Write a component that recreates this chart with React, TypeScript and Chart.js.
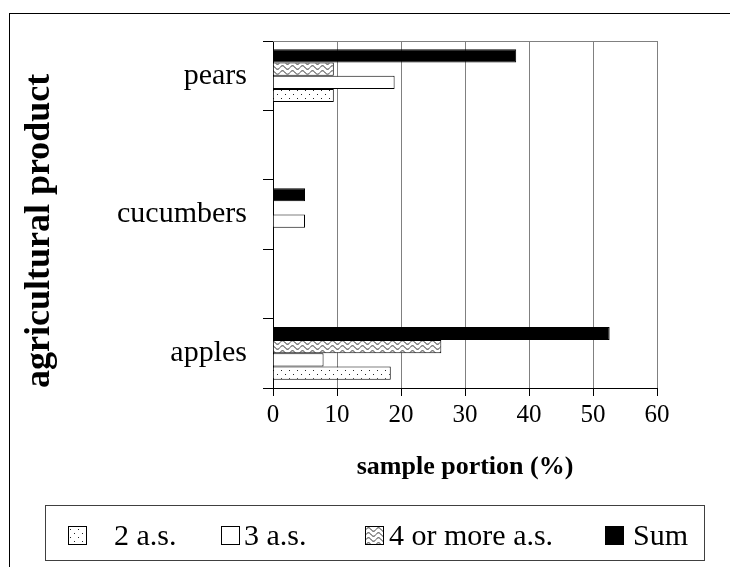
import React, { useEffect, useRef, useMemo } from 'react';
import { Chart, registerables } from 'chart.js';

Chart.register(...registerables);

// ---- data ----
const categories = ['pears', '', 'cucumbers', '', 'apples'];
const sumValues = [38.0, null, 5.0, null, 52.6];
const fourPlusValues = [9.5, null, 0, null, 26.3];
const threeValues = [19.0, null, 5.0, null, 7.9];
const twoValues = [9.5, null, 0, null, 18.4];
const xMin = 0;
const xMax = 60;
const xStep = 10;
const legendLabels = ['2 a.s.', '3 a.s.', '4 or more a.s.', 'Sum'];
const xTitle = 'sample portion (%)';
const yTitle = 'agricultural product';

const SERIF = "'Liberation Serif', 'Times New Roman', serif";

function makeDotTile(): HTMLCanvasElement {
  const c = document.createElement('canvas');
  c.width = 8;
  c.height = 8;
  const g = c.getContext('2d')!;
  g.fillStyle = '#fff';
  g.fillRect(0, 0, 8, 8);
  g.fillStyle = '#222';
  g.fillRect(1, 2, 1, 1);
  g.fillRect(5, 6, 1, 1);
  return c;
}

function makeWaveTile(): HTMLCanvasElement {
  const c = document.createElement('canvas');
  c.width = 10;
  c.height = 5;
  const g = c.getContext('2d')!;
  g.fillStyle = '#fff';
  g.fillRect(0, 0, 10, 5);
  g.strokeStyle = '#222';
  g.lineWidth = 1;
  g.beginPath();
  g.moveTo(0, 2.5);
  g.bezierCurveTo(1.5, 0.2, 3.5, 0.2, 5, 2.5);
  g.bezierCurveTo(6.5, 4.8, 8.5, 4.8, 10, 2.5);
  g.stroke();
  return c;
}

const topBorderPlugin = {
  id: 'topBorder',
  afterDraw(chart: any) {
    const { ctx, chartArea } = chart;
    ctx.save();
    ctx.strokeStyle = '#808080';
    ctx.lineWidth = 1;
    ctx.beginPath();
    const y = Math.round(chartArea.top) + 0.5;
    ctx.moveTo(chartArea.left, y);
    ctx.lineTo(chartArea.right, y);
    ctx.stroke();
    ctx.restore();
  },
};

export default function App() {
  const canvasRef = useRef<HTMLCanvasElement | null>(null);
  const tiles = useMemo(() => ({ dot: makeDotTile(), wave: makeWaveTile() }), []);

  useEffect(() => {
    const canvas = canvasRef.current!;
    const ctx = canvas.getContext('2d')!;
    const dotPattern = ctx.createPattern(tiles.dot, 'repeat')!;
    const wavePattern = ctx.createPattern(tiles.wave, 'repeat')!;

    const chart = new Chart(canvas, {
      type: 'bar',
      data: {
        labels: categories,
        datasets: [
          { label: legendLabels[3], data: sumValues, backgroundColor: '#000', borderColor: '#000', borderWidth: 1 },
          { label: legendLabels[2], data: fourPlusValues, backgroundColor: wavePattern, borderColor: '#000', borderWidth: 1 },
          { label: legendLabels[1], data: threeValues, backgroundColor: '#fff', borderColor: '#000', borderWidth: 1 },
          { label: legendLabels[0], data: twoValues, backgroundColor: dotPattern, borderColor: '#000', borderWidth: 1 },
        ] as any,
      },
      options: {
        animation: false,
        responsive: false,
        indexAxis: 'y',
        layout: { padding: { left: 0, top: 41, right: 73, bottom: 79 } },
        datasets: { bar: { categoryPercentage: 0.76, barPercentage: 1 } } as any,
        plugins: { legend: { display: false }, tooltip: { enabled: false } },
        scales: {
          x: {
            type: 'linear',
            min: xMin,
            max: xMax,
            ticks: { stepSize: xStep, color: '#000', font: { family: SERIF, size: 25 }, padding: 4, maxRotation: 0 },
            grid: { color: '#808080', lineWidth: 1, tickColor: '#000', tickLength: 8, drawTicks: true },
            border: { display: true, color: '#000', width: 1 },
            title: {
              display: true,
              text: xTitle,
              color: '#000',
              font: { family: SERIF, size: 26, weight: 'bold' },
              padding: { top: 0, bottom: 5 },
            },
            afterFit: (s: any) => {
              s.height = 100;
            },
          },
          y: {
            type: 'category',
            ticks: { color: '#000', font: { family: SERIF, size: 30 }, padding: 16, autoSkip: false },
            grid: { drawOnChartArea: false, drawTicks: true, tickLength: 10, tickColor: '#000', offset: true },
            border: { display: true, color: '#000', width: 1 },
            title: {
              display: true,
              text: yTitle,
              align: 'start',
              color: '#000',
              font: { family: SERIF, size: 36, weight: 'bold' },
              padding: { top: 18, bottom: 0 },
            },
            afterFit: (s: any) => {
              s.width = 273;
            },
          },
        } as any,
      },
      plugins: [topBorderPlugin],
    });
    return () => chart.destroy();
  }, [tiles]);

  const swatchBase: React.CSSProperties = {
    position: 'absolute',
    top: 526,
    width: 19,
    height: 19,
    boxSizing: 'border-box',
    border: '1px solid #000',
  };
  const textBase: React.CSSProperties = {
    position: 'absolute',
    top: 517,
    fontFamily: SERIF,
    fontSize: 30,
    lineHeight: '36px',
    color: '#000',
    whiteSpace: 'nowrap',
  };
  const swatchLefts = [68, 221, 365, 605];
  const textLefts = [114, 244, 389, 633];
  const swatchBgs: React.CSSProperties[] = [
    { backgroundImage: `url(${tiles.dot.toDataURL()})`, backgroundColor: '#fff' },
    { backgroundColor: '#fff' },
    { backgroundImage: `url(${tiles.wave.toDataURL()})`, backgroundColor: '#fff' },
    { backgroundColor: '#000' },
  ];

  return (
    <div style={{ position: 'absolute', left: 0, top: 0, width: 730, height: 567, overflow: 'hidden', background: '#fff' }}>
      <div
        style={{
          position: 'absolute',
          left: 9,
          top: 13,
          width: 760,
          height: 600,
          borderLeft: '1px solid #000',
          borderTop: '1px solid #000',
        }}
      />
      <canvas ref={canvasRef} width={730} height={567} style={{ position: 'absolute', left: 0, top: 0 }} />
      <div
        style={{
          position: 'absolute',
          left: 45,
          top: 505,
          width: 660,
          height: 56,
          boxSizing: 'border-box',
          border: '1px solid #404040',
        }}
      />
      {legendLabels.map((lab, i) => (
        <React.Fragment key={lab}>
          <div style={{ ...swatchBase, left: swatchLefts[i], ...swatchBgs[i] }} />
          <div style={{ ...textBase, left: textLefts[i] }}>{lab}</div>
        </React.Fragment>
      ))}
    </div>
  );
}
